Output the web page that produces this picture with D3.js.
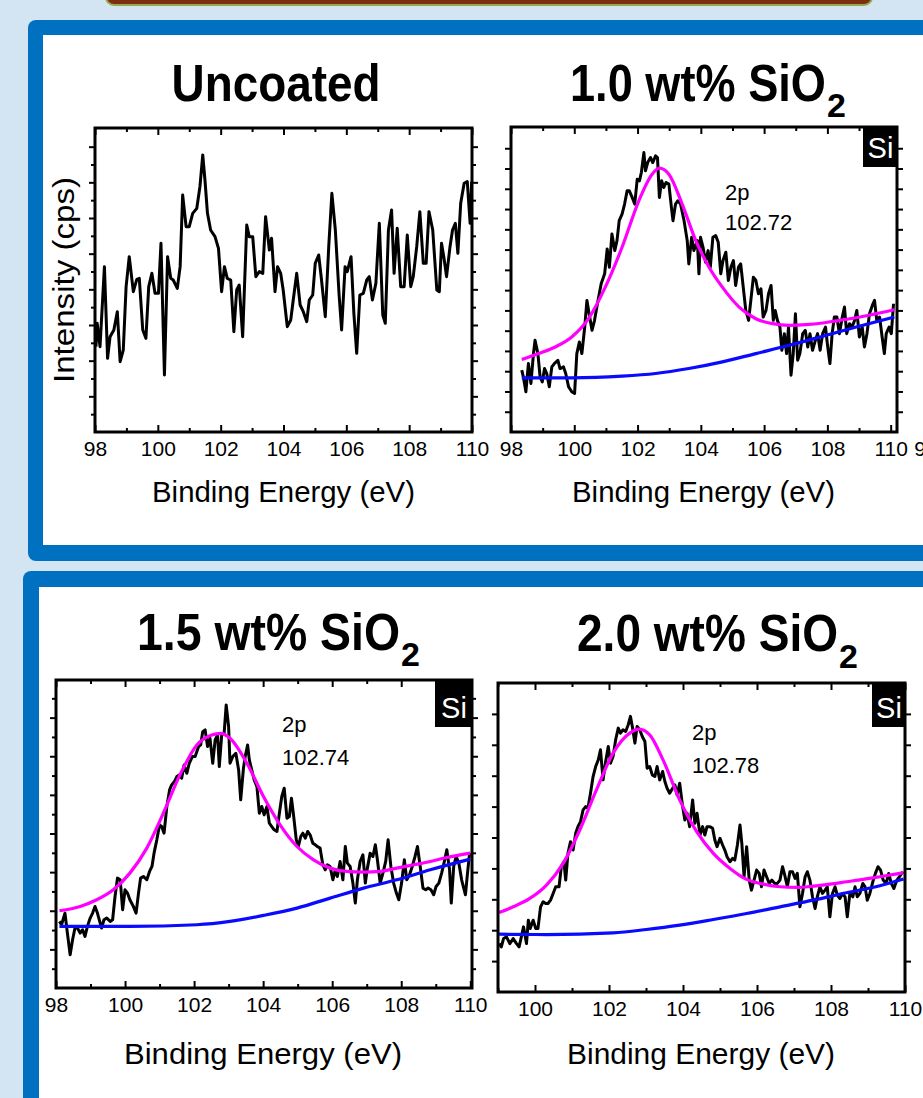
<!DOCTYPE html>
<html>
<head>
<meta charset="utf-8">
<title>Si 2p XPS spectra</title>
<script src="https://d3js.org/d3.v7.min.js"></script>
<style>
  body { margin: 0; background: #d3e4f3; overflow: hidden; }
  svg { display: block; font-family: "Liberation Sans", Arial, sans-serif; }
  .title { font-weight: bold; font-size: 52px; fill: #000; }
  .sub { font-weight: bold; font-size: 34px; fill: #000; }
  .axis-title { font-size: 30px; fill: #000; }
  .peak { font-size: 22px; fill: #000; }
  .si { font-size: 29px; fill: #fff; }
</style>
</head>
<body>
<svg width="923" height="1098"></svg>
<script>
// ---- data: binding energy (eV) and intensity (arbitrary cps) ----
const uncoatedEV = [98.03,98.07,98.16,98.30,98.40,98.48,98.60,98.71,98.80,98.90,
  98.99,99.09,99.22,99.33,99.41,99.52,99.62,99.71,99.81,99.91,
  100.02,100.10,100.21,100.31,100.41,100.49,100.62,100.71,100.79,100.90,
  101.00,101.11,101.24,101.34,101.43,101.50,101.58,101.68,101.82,101.93,
  102.03,102.12,102.21,102.32,102.42,102.51,102.59,102.70,102.83,102.91,
  103.02,103.12,103.23,103.34,103.43,103.55,103.62,103.73,103.81,103.91,
  103.99,104.12,104.23,104.31,104.42,104.53,104.63,104.74,104.82,104.93,
  105.01,105.12,105.21,105.33,105.44,105.54,105.65,105.77,105.85,105.96,
  106.03,106.15,106.24,106.33,106.43,106.54,106.65,106.73,106.83,106.94,
  107.05,107.16,107.24,107.34,107.44,107.52,107.62,107.73,107.84,107.94,
  108.05,108.13,108.24,108.34,108.45,108.54,108.63,108.75,108.88,108.96,
  109.03,109.11,109.19,109.30,109.38,109.47,109.55,109.64,109.75,109.85,
  109.94,109.99];
const uncoatedCps = [256,326,256,496,221,286,306,361,211,246,
  436,526,421,458,461,306,281,436,476,416,
  416,566,171,526,461,456,431,496,711,616,
  616,656,671,736,831,756,656,606,586,551,
  421,496,461,456,301,426,441,286,621,586,
  586,466,481,476,646,546,581,421,496,476,
  426,316,336,396,476,381,361,331,396,411,
  506,531,456,346,556,716,606,411,306,496,
  481,526,356,236,411,416,456,466,396,446,
  626,351,326,606,666,476,611,436,436,591,
  436,466,556,661,506,506,661,606,426,421,
  566,521,466,556,606,626,536,686,746,751,
  626,751];

const si10EV = [98.34,98.39,98.47,98.55,98.63,98.71,98.76,98.85,98.92,98.99,
  99.06,99.13,99.21,99.29,99.37,99.48,99.55,99.66,99.73,99.82,
  99.92,100.01,100.08,100.16,100.24,100.33,100.40,100.47,100.56,100.64,
  100.75,100.85,100.96,101.04,101.11,101.19,101.28,101.35,101.42,101.51,
  101.59,101.67,101.74,101.83,101.91,101.99,102.06,102.12,102.20,102.25,
  102.32,102.41,102.48,102.57,102.63,102.69,102.76,102.83,102.90,102.99,
  103.07,103.12,103.20,103.27,103.36,103.47,103.57,103.62,103.71,103.78,
  103.89,103.94,103.99,104.07,104.15,104.23,104.30,104.38,104.47,104.55,
  104.63,104.70,104.79,104.87,104.95,105.03,105.10,105.19,105.26,105.34,
  105.42,105.51,105.58,105.66,105.74,105.82,105.90,105.97,106.06,106.14,
  106.22,106.29,106.35,106.42,106.50,106.56,106.64,106.71,106.77,106.85,
  106.92,106.99,107.06,107.13,107.22,107.30,107.38,107.45,107.53,107.62,
  107.69,107.77,107.85,107.94,108.01,108.08,108.15,108.22,108.30,108.38,
  108.47,108.54,108.61,108.70,108.78,108.86,108.93,109.01,109.10,109.17,
  109.25,109.33,109.42,109.49,109.56,109.65,109.73,109.80,109.86,109.95,
  110.02,110.09];
const si10Cps = [186,166,121,206,146,236,276,236,166,151,
  191,176,136,196,206,216,191,196,176,136,
  121,116,236,271,236,316,396,356,306,336,
  396,446,476,551,496,596,546,576,636,656,
  686,726,726,706,686,761,756,781,841,786,
  811,826,811,831,826,706,756,736,751,746,
  676,636,686,696,686,636,576,506,586,546,
  576,476,586,556,511,546,496,586,591,571,
  476,516,541,456,496,516,441,496,506,436,
  366,336,396,466,456,416,431,346,366,416,
  441,336,366,336,316,246,296,236,316,171,
  236,356,216,236,296,306,256,296,246,276,
  296,246,296,316,256,206,296,346,346,296,
  346,376,296,326,316,336,366,286,316,256,
  296,356,381,396,336,346,286,236,296,316,
  296,386];
const si10FitEV = [98.34,98.87,99.40,99.92,100.45,100.98,101.51,102.04,102.46,102.69,102.99,103.41,103.84,104.26,104.68,105.21,105.74,106.27,106.80,107.32,107.85,108.38,108.91,109.44,110.12];
const si10FitCps = [218,236,256,286,341,436,556,696,776,794,776,686,576,496,436,376,341,326,321,323,328,336,344,354,368];
const si10BgEV = [98.34,99.92,101.51,102.57,103.62,104.68,105.74,106.80,107.85,108.91,110.12];
const si10BgCps = [163,163,168,176,191,211,236,261,288,316,346];

const si15EV = [98.10,98.16,98.26,98.33,98.41,98.48,98.55,98.62,98.70,98.77,
  98.84,98.91,98.99,99.06,99.13,99.20,99.28,99.32,99.39,99.47,
  99.57,99.64,99.71,99.78,99.86,99.93,100.00,100.07,100.14,100.24,
  100.32,100.39,100.45,100.53,100.63,100.71,100.78,100.84,100.92,101.00,
  101.06,101.13,101.21,101.29,101.35,101.43,101.50,101.57,101.64,101.71,
  101.79,101.86,101.95,102.03,102.13,102.19,102.25,102.32,102.39,102.46,
  102.54,102.61,102.68,102.73,102.80,102.87,102.93,103.00,103.04,103.12,
  103.21,103.29,103.35,103.43,103.48,103.55,103.60,103.67,103.74,103.82,
  103.89,103.96,104.03,104.11,104.18,104.25,104.32,104.40,104.47,104.54,
  104.61,104.69,104.76,104.82,104.88,104.96,105.02,105.09,105.15,105.22,
  105.29,105.36,105.44,105.51,105.57,105.65,105.73,105.80,105.86,105.94,
  106.02,106.09,106.15,106.23,106.31,106.38,106.44,106.52,106.60,106.67,
  106.73,106.81,106.89,106.96,107.02,107.10,107.18,107.25,107.31,107.39,
  107.47,107.55,107.62,107.70,107.78,107.86,107.93,108.01,108.09,108.16,
  108.24,108.32,108.40,108.47,108.55,108.63,108.71,108.78,108.86,108.94,
  109.01,109.09,109.17,109.25,109.32,109.40,109.45,109.52,109.59,109.67,
  109.75,109.81,109.86,109.92,109.98];
const si15Cps = [200,190,225,165,100,145,180,180,165,175,
  155,185,210,225,245,225,195,180,205,210,
  200,205,275,330,325,235,295,285,265,245,
  225,285,330,335,325,350,365,405,445,490,
  485,465,545,595,610,620,635,640,630,670,
  645,675,695,695,725,730,770,775,725,750,
  675,745,760,665,760,765,850,785,675,695,
  705,655,565,660,695,730,685,655,625,605,
  525,545,520,545,495,485,475,470,525,575,
  600,510,515,570,520,445,425,455,465,450,
  470,460,435,430,425,420,370,355,370,365,
  325,355,335,380,325,425,375,365,315,255,
  325,380,400,315,360,405,395,430,385,315,
  345,380,445,365,315,285,265,315,385,325,
  340,365,395,425,365,300,295,300,295,280,
  305,315,345,380,415,355,255,365,395,375,
  325,300,280,345,405];
const si15FitEV = [98.10,98.70,99.18,99.66,100.14,100.63,101.11,101.59,102.08,102.51,102.77,103.04,103.53,104.01,104.49,104.98,105.46,105.94,106.43,106.91,107.39,107.87,108.36,108.84,109.32,110.00];
const si15FitCps = [232,245,265,295,345,420,525,640,730,760,765,750,675,575,490,425,385,360,350,348,350,360,370,380,392,405];
const si15BgEV = [98.10,100.14,102.08,103.04,104.01,104.98,105.94,106.91,107.87,108.84,110.00];
const si15BgCps = [185,185,190,200,218,240,270,300,325,355,387];

const si20EV = [99.03,99.09,99.15,99.23,99.32,99.41,99.50,99.57,99.63,99.69,
  99.77,99.82,99.87,99.95,100.02,100.08,100.15,100.22,100.29,100.35,
  100.42,100.49,100.56,100.65,100.71,100.78,100.83,100.89,100.96,101.03,
  101.10,101.16,101.23,101.30,101.37,101.43,101.50,101.57,101.64,101.71,
  101.77,101.84,101.91,101.98,102.04,102.11,102.18,102.25,102.31,102.38,
  102.45,102.52,102.58,102.63,102.70,102.76,102.83,102.90,102.97,103.03,
  103.10,103.17,103.24,103.30,103.37,103.45,103.51,103.57,103.64,103.72,
  103.78,103.84,103.91,103.99,104.05,104.11,104.18,104.26,104.32,104.38,
  104.46,104.53,104.59,104.65,104.73,104.80,104.86,104.92,105.00,105.07,
  105.13,105.19,105.27,105.34,105.40,105.47,105.54,105.59,105.65,105.72,
  105.79,105.85,105.92,105.99,106.06,106.12,106.19,106.26,106.33,106.40,
  106.48,106.55,106.62,106.69,106.75,106.82,106.89,106.96,107.03,107.09,
  107.16,107.23,107.30,107.36,107.43,107.50,107.57,107.63,107.70,107.77,
  107.84,107.90,107.97,108.04,108.11,108.17,108.24,108.31,108.38,108.44,
  108.51,108.59,108.65,108.71,108.78,108.86,108.92,108.98,109.05,109.13,
  109.20,109.27,109.34,109.41,109.49,109.56,109.63,109.70,109.78,109.85,
  109.94];
const si20Cps = [145,135,160,165,145,160,145,135,165,195,
  145,215,190,215,190,190,255,270,265,265,
  275,295,315,315,375,390,335,415,450,425,
  475,495,510,545,555,550,595,645,675,695,
  725,635,690,735,685,705,755,790,775,785,
  780,800,825,795,745,795,785,765,750,670,
  675,650,645,675,635,660,630,610,595,610,
  620,590,625,555,515,535,495,575,505,535,
  470,495,470,495,495,490,455,435,460,440,
  425,405,390,400,395,440,500,445,345,435,
  335,305,335,365,355,315,365,345,325,335,
  325,325,335,375,350,315,360,360,340,355,
  255,295,345,360,335,285,250,285,315,295,
  305,315,225,295,315,290,280,295,285,225,
  295,285,315,285,295,325,315,275,295,330,
  355,375,365,335,325,355,325,310,335,345,
  360];
const si20FitEV = [99.03,99.41,99.86,100.31,100.76,101.21,101.66,102.11,102.56,102.81,103.10,103.46,103.91,104.37,104.82,105.27,105.72,106.17,106.62,107.07,107.52,107.97,108.42,108.87,109.32,109.96];
const si20FitCps = [238,255,280,320,385,485,605,715,775,787,770,695,575,480,415,370,337,323,315,313,317,323,330,337,345,357];
const si20BgEV = [99.03,100.31,102.11,103.01,103.91,104.82,105.72,106.62,107.52,108.42,109.32,109.96];
const si20BgCps = [173,172,177,187,200,217,235,255,275,297,318,338];

// tick labels
const xTicksFull = [98, 100, 102, 104, 106, 108, 110];
const xMinorFull = [99, 101, 103, 105, 107, 109];
const xTicksShort = [100, 102, 104, 106, 108, 110];
const xMinorShort = [99, 101, 103, 105, 107, 109];

// ---- layout ----
const panels = [
  { id: "uncoated", left: 95, right: 472, top: 128, bottom: 432, xDomain: [98, 110], yMax: 912,
    yStep: 53.5, yAlt: true, xMajor: xTicksFull, xMinor: xMinorFull,
    data: d3.zip(uncoatedEV, uncoatedCps) },
  { id: "si10", left: 511, right: 897, top: 127, bottom: 432, xDomain: [98, 110.2], yMax: 918,
    yStep: 61, yAlt: false, xMajor: xTicksFull, xMinor: xMinorFull,
    data: d3.zip(si10EV, si10Cps), fit: d3.zip(si10FitEV, si10FitCps), bg: d3.zip(si10BgEV, si10BgCps),
    si: [863, 128, 33, 39], peak: ["2p", "102.72"], peakPos: [725, 200, 230] },
  { id: "si15", left: 56, right: 472, top: 680, bottom: 988, xDomain: [98, 110.05], yMax: 925,
    yStep: 58, yAlt: true, xMajor: xTicksFull, xMinor: xMinorFull,
    data: d3.zip(si15EV, si15Cps), fit: d3.zip(si15FitEV, si15FitCps), bg: d3.zip(si15BgEV, si15BgCps),
    si: [435, 680, 36, 47], peak: ["2p", "102.74"], peakPos: [282, 732, 765] },
  { id: "si20", left: 498, right: 905, top: 683, bottom: 992, xDomain: [99, 110], yMax: 925,
    yStep: 92.5, yAlt: false, xMajor: xTicksShort, xMinor: xMinorShort,
    data: d3.zip(si20EV, si20Cps), fit: d3.zip(si20FitEV, si20FitCps), bg: d3.zip(si20BgEV, si20BgCps),
    si: [872, 684, 32, 43], peak: ["2p", "102.78"], peakPos: [692, 740, 773] }
];

const svg = d3.select("svg");
const blue = "#0070c0";

// ---- page decoration ----
svg.append("rect").attr("x", 106).attr("y", -20).attr("width", 766).attr("height", 25)
  .attr("rx", 8).attr("fill", "#7c2d12").attr("stroke", "#9aa64a").attr("stroke-width", 2);
svg.append("rect").attr("x", 28).attr("y", 20).attr("width", 960).attr("height", 541)
  .attr("rx", 8).attr("fill", blue);
svg.append("rect").attr("x", 43).attr("y", 35).attr("width", 960).attr("height", 510).attr("fill", "#fff");
svg.append("rect").attr("x", 23).attr("y", 571).attr("width", 960).attr("height", 600)
  .attr("rx", 8).attr("fill", blue);
svg.append("rect").attr("x", 39).attr("y", 587).attr("width", 960).attr("height", 600).attr("fill", "#fff");

// ---- panels ----
function styleAxis(g, fontSize) {
  g.select(".domain").remove();
  g.selectAll(".tick line").attr("stroke", "#000").attr("stroke-width", 2);
  g.attr("font-family", "Liberation Sans, Arial, sans-serif").attr("font-size", fontSize);
  g.selectAll(".tick text").attr("fill", "#000");
}

function drawPanel(p) {
  const x = d3.scaleLinear().domain(p.xDomain).range([p.left, p.right]);
  const y = d3.scaleLinear().domain([0, p.yMax]).range([p.bottom, p.top]);
  const g = svg.append("g").attr("class", "panel");
  const clipId = "clip-" + p.id;
  g.append("clipPath").attr("id", clipId).append("rect")
    .attr("x", p.left).attr("y", p.top)
    .attr("width", p.right - p.left).attr("height", p.bottom - p.top);

  const plot = g.append("g").attr("clip-path", `url(#${clipId})`);
  const line = d3.line().x(d => x(d[0])).y(d => y(d[1]));
  const smooth = d3.line().x(d => x(d[0])).y(d => y(d[1])).curve(d3.curveMonotoneX);

  plot.append("path").datum(p.data).attr("d", line)
    .attr("fill", "none").attr("stroke", "#000").attr("stroke-width", 3)
    .attr("stroke-linejoin", "round");
  if (p.bg) {
    plot.append("path").datum(p.bg).attr("d", smooth)
      .attr("fill", "none").attr("stroke", "#0a0aff").attr("stroke-width", 3.2);
  }
  if (p.fit) {
    plot.append("path").datum(p.fit).attr("d", smooth)
      .attr("fill", "none").attr("stroke", "#ff00ff").attr("stroke-width", 3.2);
  }

  // x axes (ticks pointing inward)
  g.append("g").attr("transform", `translate(0,${p.bottom})`)
    .call(d3.axisBottom(x).tickValues(p.xMajor).tickSize(-7).tickPadding(9).tickFormat(d3.format("d")))
    .call(a => styleAxis(a, 21));
  g.append("g").attr("transform", `translate(0,${p.bottom})`)
    .call(d3.axisBottom(x).tickValues(p.xMinor).tickSize(-4).tickFormat(""))
    .call(a => styleAxis(a, 21));
  g.append("g").attr("transform", `translate(0,${p.top})`)
    .call(d3.axisTop(x).tickValues(p.xMajor).tickSize(-7).tickFormat(""))
    .call(a => styleAxis(a, 21));
  g.append("g").attr("transform", `translate(0,${p.top})`)
    .call(d3.axisTop(x).tickValues(p.xMinor).tickSize(-4).tickFormat(""))
    .call(a => styleAxis(a, 21));

  // y axes (ticks pointing outward)
  const yVals = d3.range(p.yStep, p.yMax - 5, p.yStep);
  const yMajor = p.yAlt ? yVals.filter((d, i) => i % 2 === 1) : yVals;
  const yMinor = p.yAlt ? yVals.filter((d, i) => i % 2 === 0) : [];
  [[d3.axisLeft, p.left], [d3.axisRight, p.right]].forEach(([ax, pos]) => {
    g.append("g").attr("transform", `translate(${pos},0)`)
      .call(ax(y).tickValues(yMajor).tickSize(6).tickFormat(""))
      .call(a => styleAxis(a, 21));
    if (yMinor.length) {
      g.append("g").attr("transform", `translate(${pos},0)`)
        .call(ax(y).tickValues(yMinor).tickSize(4).tickFormat(""))
        .call(a => styleAxis(a, 21));
    }
  });

  g.append("rect").attr("x", p.left).attr("y", p.top)
    .attr("width", p.right - p.left).attr("height", p.bottom - p.top)
    .attr("fill", "none").attr("stroke", "#000").attr("stroke-width", 3);

  if (p.si) {
    const [sx, sy, sw, sh] = p.si;
    g.append("rect").attr("x", sx).attr("y", sy).attr("width", sw).attr("height", sh).attr("fill", "#000");
    g.append("text").attr("class", "si").attr("x", sx + sw / 2 + 1).attr("y", sy + sh - 9)
      .attr("text-anchor", "middle").text("Si");
  }
  if (p.peak) {
    g.append("text").attr("class", "peak").attr("x", p.peakPos[0]).attr("y", p.peakPos[1]).text(p.peak[0]);
    g.append("text").attr("class", "peak").attr("x", p.peakPos[0]).attr("y", p.peakPos[2]).text(p.peak[1]);
  }
}

panels.forEach(drawPanel);

// label of the next (off-page) panel peeking in at the right edge
svg.append("text").attr("x", 926).attr("y", 456).attr("text-anchor", "middle")
  .attr("font-size", 21).text("98");

// ---- titles ----
function title(x, y, len, txt, anchor) {
  svg.append("text").attr("class", "title").attr("x", x).attr("y", y)
    .attr("text-anchor", anchor || "start")
    .attr("textLength", len).attr("lengthAdjust", "spacingAndGlyphs").text(txt);
}
title(276, 101, 209, "Uncoated", "middle");
title(570, 101, 256, "1.0 wt% SiO");
svg.append("text").attr("class", "sub").attr("x", 827).attr("y", 117).text("2");
title(137, 650, 263, "1.5 wt% SiO");
svg.append("text").attr("class", "sub").attr("x", 401).attr("y", 666).text("2");
title(577, 651, 261, "2.0 wt% SiO");
svg.append("text").attr("class", "sub").attr("x", 839).attr("y", 668).text("2");

// ---- axis titles ----
[[152, 502, 263], [572, 502, 263], [124, 1064, 278], [567, 1064, 268]].forEach(([x, y, len]) => {
  svg.append("text").attr("class", "axis-title").attr("x", x).attr("y", y)
    .attr("textLength", len).attr("lengthAdjust", "spacingAndGlyphs").text("Binding Energy (eV)");
});
svg.append("text").attr("class", "axis-title").attr("font-size", 27)
  .attr("transform", "translate(74,280) rotate(-90)").attr("text-anchor", "middle")
  .attr("textLength", 206).attr("lengthAdjust", "spacingAndGlyphs").text("Intensity (cps)");
</script>
</body>
</html>
